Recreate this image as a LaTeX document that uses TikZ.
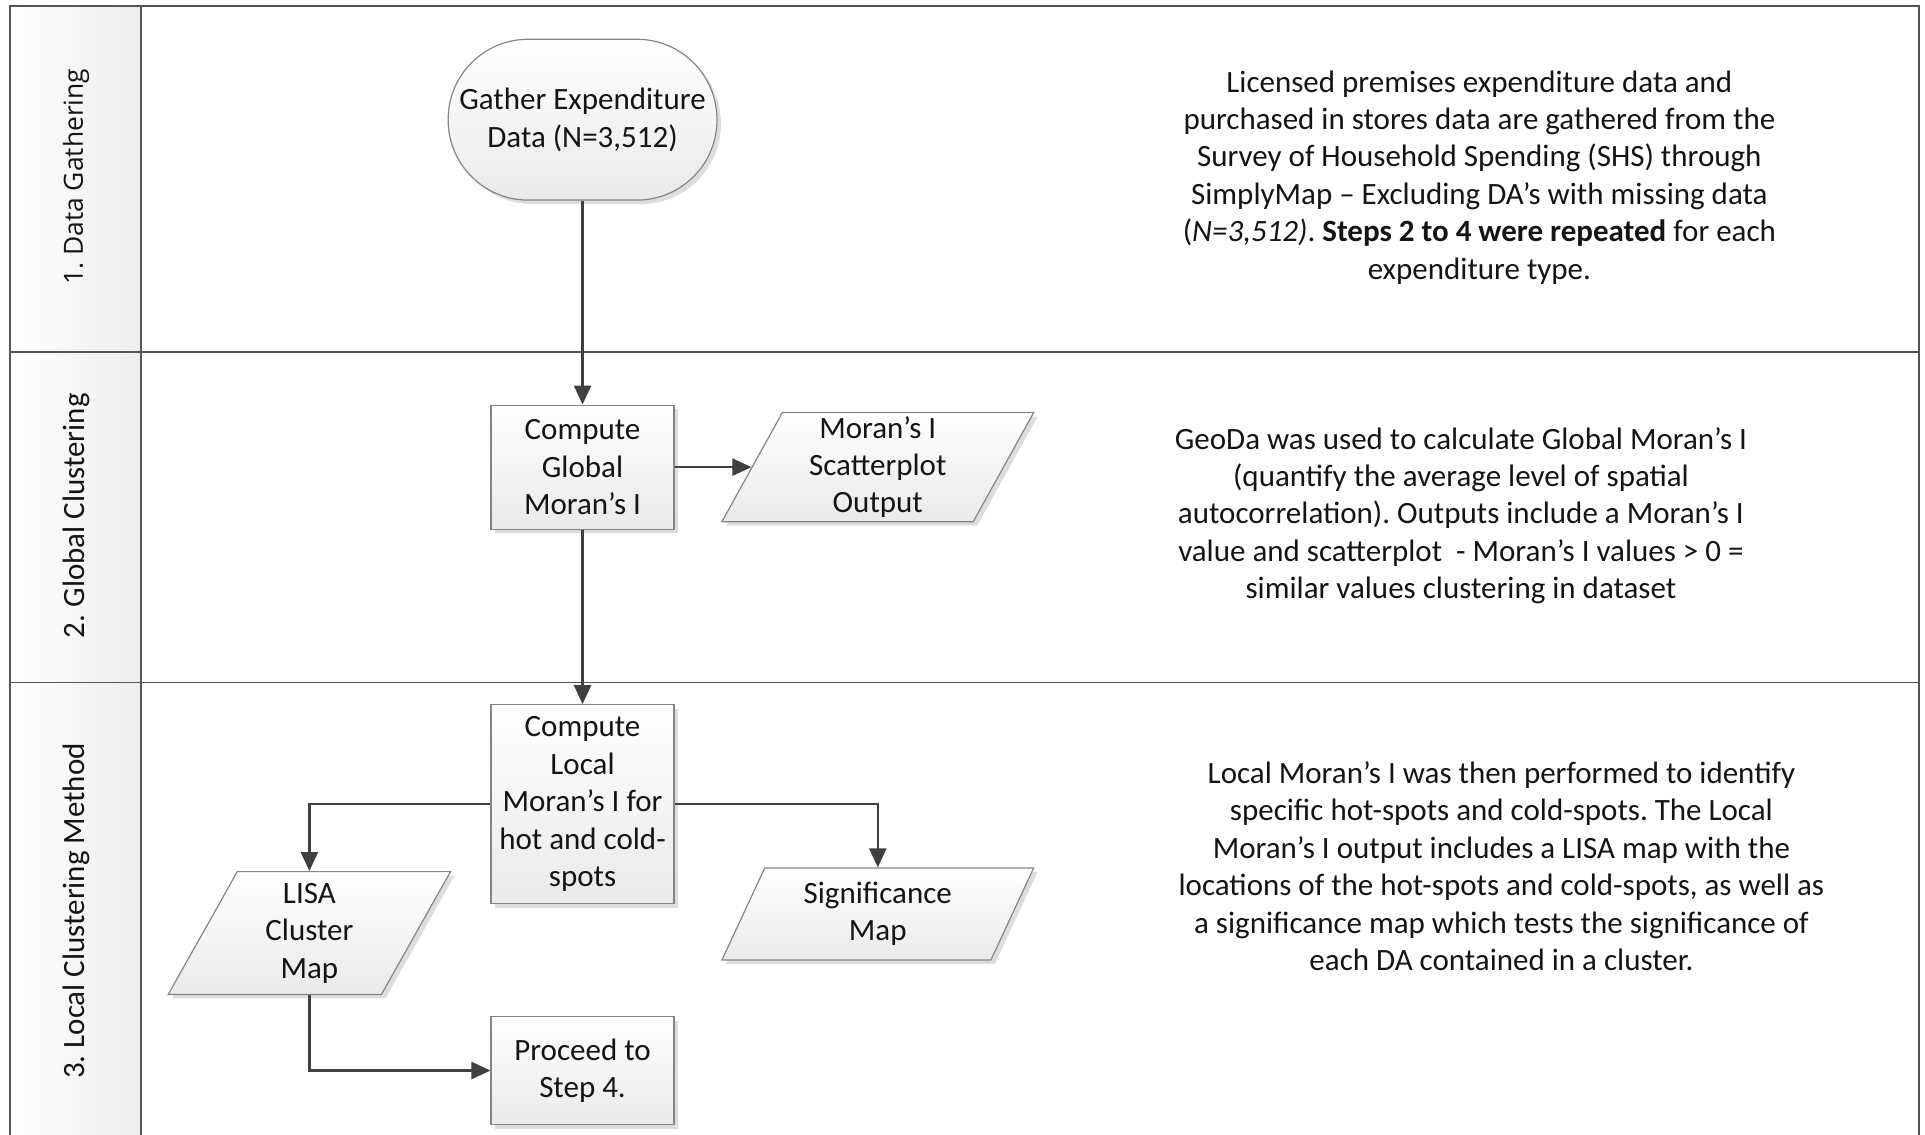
\documentclass[tikz,border=0pt]{standalone}
\usepackage{fontspec}
\setmainfont{Carlito}
\newfontfamily\lanefont{Open Sans}
\usetikzlibrary{arrows.meta,shapes.geometric,shadows}
\definecolor{frameline}{HTML}{555555}
\definecolor{arrowcol}{HTML}{404040}
\definecolor{boxline}{HTML}{858585}
\definecolor{fillbot}{HTML}{EAEAEA}
\definecolor{hdrfill}{HTML}{EDEDED}
\definecolor{txt}{HTML}{141414}
\frenchspacing
\begin{document}
\begin{tikzpicture}[x=0.61385pt,y=-0.61385pt,
  txtfont/.style={font=\fontsize{15.5}{18.7}\selectfont},
  box/.style={draw=boxline, line width=0.6pt, top color=white, bottom color=fillbot,
    drop shadow={shadow xshift=2pt, shadow yshift=-2pt, fill=black!22, opacity=0.6},
    align=center, inner sep=1pt, text=txt, txtfont},
  proc/.style={box, rectangle, minimum width=91.5pt},
  term/.style={box, rectangle, rounded corners=40pt, minimum width=134.4pt, minimum height=80.4pt},
  io/.style={box, trapezium, trapezium left angle=67, trapezium right angle=113,
    trapezium stretches=true},
  arr/.style={draw=arrowcol, line width=1.2pt, -{Triangle[length=9.5pt,width=8.5pt]}},
  frame/.style={draw=frameline, line width=1.1pt},
  lanelbl/.style={rotate=90, text=txt},
  desc/.style={align=center, text=txt, txtfont, inner sep=0pt}
]
\useasboundingbox (0,0) rectangle (1568,924);
\clip (0,0) rectangle (1568,924);
% lane header column
\fill[left color=white, right color=hdrfill] (8,5) rectangle (115,940);
% frame
\draw[frame] (8,940) -- (8,5) -- (1563,5) -- (1563,940);
\draw[frame, line width=0.9pt] (115,5) -- (115,940);
\draw[frame, line width=0.9pt] (8,287) -- (1563,287);
\draw[frame, line width=0.9pt] (8,556) -- (1563,556);

% lane labels
\node[lanelbl, font=\lanefont\fontsize{13.2}{16}\selectfont] (lane1) at (62,144) {1. Data Gathering};
\node[lanelbl, font=\fontsize{15.5}{18}\selectfont] (lane2) at (62,420) {2. Global Clustering};
\node[lanelbl, font=\fontsize{15.5}{18}\selectfont] (lane3) at (62,742) {3. Local Clustering Method};

% flow nodes
\node[term] (gather) at (474.5,97.5) {Gather Expenditure\\Data (N=3,512)};
\node[proc, minimum height=62pt] (global) at (474.5,380.5) {Compute\\Global\\Moran’s I};
\node[io, minimum width=156pt, minimum height=54.6pt] (moran) at (715,380.5) {Moran’s I\\Scatterplot\\Output};
\node[proc, minimum height=99.4pt] (local) at (474.5,655) {Compute\\Local\\Moran’s I for\\hot and cold-\\spots};
\node[io, minimum width=142.4pt, minimum height=61.4pt] (lisa) at (252,760) {LISA\\Cluster\\Map};
\node[io, minimum width=156pt, minimum height=46pt] (signif) at (715,744.5) {Significance\\Map};
\node[proc, minimum height=54pt] (proceed) at (474.5,872) {Proceed to\\Step 4.};

% connectors
\draw[arr] (gather.south) -- (global.north);
\draw[arr] (global.east) -- (moran.left side);
\draw[arr] (global.south) -- (local.north);
\draw[arr] (local.west) -| (lisa.north);
\draw[arr] (local.east) -| (signif.north);
\draw[arr] (lisa.south) |- (proceed.west);

% descriptions
\node[desc] (d1) at (1205,144.5) {Licensed premises expenditure data and\\
purchased in stores data are gathered from the\\
Survey of Household Spending (SHS) through\\
SimplyMap – Excluding DA’s with missing data\\
(\textit{N=3,512)}. \textbf{Steps 2 to 4 were repeated} for each\\
expenditure type.};
\node[desc] (d2) at (1190,420) {GeoDa was used to calculate Global Moran’s I\\
(quantify the average level of spatial\\
autocorrelation). Outputs include a Moran’s I\\
value and scatterplot \ - Moran’s I values > 0 =\\
similar values clustering in dataset};
\node[desc] (d3) at (1223,705.5) {Local Moran’s I was then performed to identify\\
specific hot-spots and cold-spots. The Local\\
Moran’s I output includes a LISA map with the\\
locations of the hot-spots and cold-spots, as well as\\
a significance map which tests the significance of\\
each DA contained in a cluster.};
\end{tikzpicture}
\end{document}
